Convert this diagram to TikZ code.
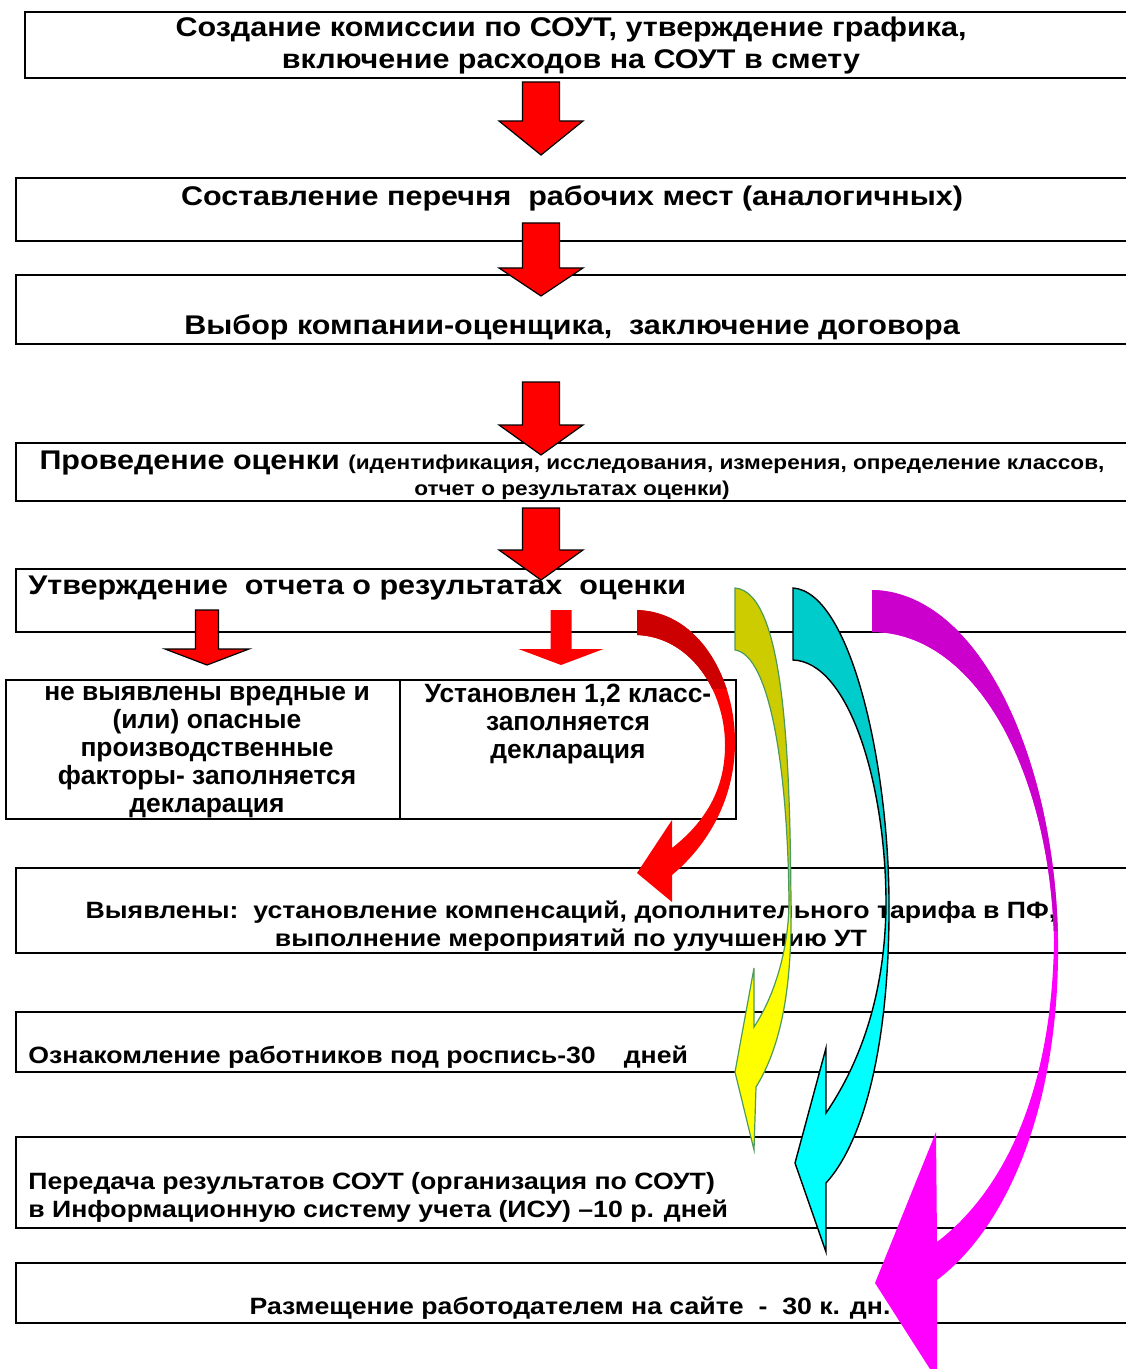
\documentclass[tikz,border=0pt]{standalone}
\usepackage{fontspec}
\setmainfont[FakeStretch=1.13]{Liberation Sans}
\newfontfamily\cellfont{Liberation Sans}
\usetikzlibrary{fit}

\definecolor{redbright}{HTML}{FF0000}
\definecolor{reddark}{HTML}{CC0000}
\definecolor{yellowbright}{HTML}{FFFF00}
\definecolor{yellowdark}{HTML}{CCCC00}
\definecolor{yellowline}{HTML}{4E9A5A}
\definecolor{cyanbright}{HTML}{00FFFF}
\definecolor{cyandark}{HTML}{00CCCC}
\definecolor{magbright}{HTML}{FF00FF}
\definecolor{magdark}{HTML}{CC00CC}

% straight block arrow: x, top, head base, tip, half shaft, half head
\newcommand{\blockarrow}[7][draw=black]{%
  \filldraw[fill=redbright, line width=0.6pt, #1] (#2-#6,#3) -- (#2+#6,#3) -- (#2+#6,#4) -- (#2+#7,#4)
    -- (#2,#5) -- (#2-#7,#4) -- (#2-#6,#4) -- cycle;}

% bent arrows
\newcommand{\redbend}{(637,610) .. controls (700,612) and (736,680) .. (735,745)
  .. controls (734,800) and (708,845) .. (672,875) -- (672,902) -- (637,873) -- (672,820) -- (672,848)
  .. controls (705,822) and (725,790) .. (725,745) .. controls (725,690) and (690,637) .. (637,635) -- cycle}
\newcommand{\yellowbend}{(735,588) .. controls (785,592) and (790,760) .. (791,905)
  .. controls (792,985) and (782,1045) .. (756,1087) -- (754,1150) -- (735,1072) -- (754,968) -- (754,1027)
  .. controls (775,995) and (788,950) .. (789,905) .. controls (788,770) and (770,655) .. (735,650) -- cycle}
\newcommand{\cyanbend}{(793,588) .. controls (850,592) and (888,760) .. (889,900)
  .. controls (890,1040) and (865,1140) .. (826,1183) -- (826,1252) -- (795,1163) -- (826,1048) -- (826,1113)
  .. controls (862,1060) and (886,990) .. (886,900) .. controls (885,780) and (848,662) .. (793,660) -- cycle}
\newcommand{\magbend}{(872,590) .. controls (980,592) and (1055,760) .. (1058,940)
  .. controls (1060,1100) and (1010,1225) .. (937,1280) -- (937,1380) -- (875,1283) -- (936,1132) -- (937,1242)
  .. controls (1005,1190) and (1052,1090) .. (1054,940) .. controls (1050,770) and (975,632) .. (872,632) -- cycle}

\begin{document}
\begin{tikzpicture}[x=0.5pt, y=-0.5pt,
    frame/.style={draw=black, line width=1pt, inner sep=0pt},
    boxtext/.style={font=\bfseries\fontsize{13.5}{16}\selectfont, align=center, inner sep=0pt},
    celltext/.style={font=\cellfont\bfseries\fontsize{13.2}{14}\selectfont, align=center, inner sep=0pt},
    smalltext/.style={font=\bfseries\fontsize{11.8}{14}\selectfont, inner sep=0pt}]

\useasboundingbox (0,0) rectangle (1125,1369);

% Frames
\node[frame, fit={(25,12) (1128,78)}] (f1) {};
\node[frame, fit={(16,178) (1128,241)}] (f2) {};
\node[frame, fit={(16,275) (1128,344)}] (f3) {};
\node[frame, fit={(16,443) (1128,501)}] (f4) {};
\node[frame, fit={(16,569) (1128,632)}] (f5) {};
\node[frame, fit={(6,680) (400,819)}] (c1) {};
\node[frame, fit={(400,680) (736,819)}] (c2) {};
\node[frame, fit={(16,868) (1128,953)}] (f6) {};
\node[frame, fit={(16,1012) (1128,1072)}] (f7) {};
\node[frame, fit={(16,1137) (1128,1228)}] (f8) {};
\node[frame, fit={(16,1263) (1128,1323)}] (f9) {};

% Texts
\node[boxtext] (t1) at (571,46) {Создание комиссии по СОУТ, утверждение графика,\\включение расходов на СОУТ в смету};
\node[boxtext] (t2) at (572,198) {Составление перечня\ \ рабочих мест (аналогичных)};
\node[boxtext] (t3) at (572,327) {Выбор компании-оценщика,\ \ заключение договора};
\node[boxtext, font=\bfseries\fontsize{13.5}{13}\selectfont] (t4) at (572,475)
  {Проведение оценки {\fontsize{10}{13}\selectfont (идентификация, исследования, измерения, определение классов,}\\
   {\fontsize{10}{13}\selectfont отчет о результатах оценки)}};
\node[boxtext, anchor=west] (t5) at (28,588) {Утверждение\ \ отчета о результатах\ \ оценки};
\node[celltext] (tc1) at (207,752) {не выявлены вредные и\\(или) опасные\\производственные\\факторы- заполняется\\декларация};
\node[celltext] (tc2) at (568,724) {Установлен 1,2 класс-\\заполняется\\декларация};
\node[smalltext, align=center] (t6) at (571,926) {Выявлены:\ \ установление компенсаций, дополнительного тарифа в ПФ,\\выполнение мероприятий по улучшению УТ};
\node[smalltext, anchor=west] (t7) at (28,1057) {Ознакомление работников под роспись-30\hspace{14pt}дней};
\node[smalltext, anchor=west, align=left] (t8) at (28,1197) {Передача результатов СОУТ (организация по СОУТ)\\в Информационную систему учета (ИСУ) –10 р. дней};
\node[smalltext] (t9) at (570,1308) {Размещение работодателем на сайте\ \ -\ \ 30 к. дн.};

% Straight arrows
\blockarrow{541}{82}{121}{155}{18.5}{42}
\blockarrow{541}{223}{268}{296}{18.5}{42}
\blockarrow{541}{382}{425}{455}{18.5}{42}
\blockarrow{541}{508}{550}{580}{18.5}{42}
\blockarrow{207}{610}{649}{665}{11.5}{42}
\blockarrow[draw=none]{561}{610}{649}{665}{10.5}{42.5}

% Bent arrows
\fill[redbright] \redbend;
\begin{scope}
  \clip (600,590) rectangle (760,688);
  \fill[reddark] \redbend;
\end{scope}

\fill[yellowbright] \yellowbend;
\begin{scope}
  \clip (720,580) rectangle (800,900);
  \fill[yellowdark] \yellowbend;
\end{scope}
\draw[yellowline, line width=0.6pt] \yellowbend;

\fill[cyanbright] \cyanbend;
\begin{scope}
  \clip (780,580) rectangle (900,880);
  \fill[cyandark] \cyanbend;
\end{scope}
\draw[black, line width=0.7pt] \cyanbend;

\fill[magbright] \magbend;
\begin{scope}
  \clip (860,580) rectangle (1070,930);
  \fill[magdark] \magbend;
\end{scope}
\end{tikzpicture}
\end{document}
